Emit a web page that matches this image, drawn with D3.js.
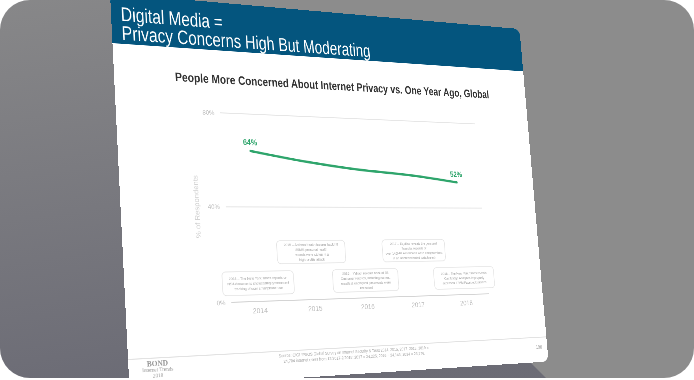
<!DOCTYPE html>
<html>
<head>
<meta charset="utf-8">
<script src="https://cdn.jsdelivr.net/npm/d3@7"></script>
<style>
    html, body { margin: 0; padding: 0; background: #fff; }
    #frame { position: absolute; left: 0; top: 0; width: 694px; height: 378px; border-radius: 30px; overflow: hidden; background: #8c8c8c; }
    #bg { position: absolute; left: 0; top: 0; }
    #slide { position: absolute; left: 0; top: 0; transform-origin: 0 0; }
    text { font-family: Arial, "Liberation Sans", sans-serif; }
</style>
</head>
<body>
<div id="frame">
    <svg id="bg" width="694" height="378"></svg>
    <svg id="slide" width="1000" height="750"></svg>
</div>
<script>
// chart values
var years = ['2014', '2015', '2016', '2017', '2018'];
var concerned = [64, 60, 57, 55, 52];
var yTicks = [0, 40, 80];
var events = [
    ['2014 \u2013 The New York Times reports on', 'NSA documents showcasing government', 'tracking of user smartphone use'],
    ['2015 \u2013 Anthem health insurer hack hit', '80MM personal health', 'records were stolen in a', 'high-profile attack'],
    ['2016 \u2013 Yahoo! reveals hack of 3B', 'Customer records, including names,', 'emails & encrypted passwords were', 'breached'],
    ['2017 \u2013 Equifax reveals the personal', 'financial records of', 'over 145MM Americans were compromised', 'in an unprecedented data breach'],
    ['2018 \u2013 The New York Times reveals', 'Cambridge Analytica improperly', 'accessed 87MM Facebook profiles']
];
var sourceLines = [
    'Source: CIGI-IPSOS Global Survey on Internet Security & Trust 2014, 2015, 2017, 2018, 2019 =',
    '24,704 internet users from 12/2017-2/2018; 2017 = 24,225; 2016 = 24,143; 2014 = 23,376.'
];

var W = 1000, H = 750;
var green = '#2fa56c';

// flat slide -> tilted quad on screen (TL, TR, BR, BL)
var quad = [[110, -7], [519.5, 29], [548.5, 361.5], [129.5, 389]];

function quadMatrix(w, h, q) {
    var x0 = q[0][0], y0 = q[0][1], x1 = q[1][0], y1 = q[1][1],
        x2 = q[2][0], y2 = q[2][1], x3 = q[3][0], y3 = q[3][1];
    var dx1 = x1 - x2, dx2 = x3 - x2, sx = x0 - x1 + x2 - x3;
    var dy1 = y1 - y2, dy2 = y3 - y2, sy = y0 - y1 + y2 - y3;
    var det = dx1 * dy2 - dx2 * dy1;
    var g = (sx * dy2 - dx2 * sy) / det;
    var k = (dx1 * sy - sx * dy1) / det;
    var a = x1 - x0 + g * x1, b = x3 - x0 + k * x3, c = x0;
    var d = y1 - y0 + g * y1, e = y3 - y0 + k * y3, f = y0;
    return [a / w, d / w, 0, g / w, b / h, e / h, 0, k / h, 0, 0, 1, 0, c, f, 0, 1];
}

d3.select('#slide').style('transform', 'matrix3d(' + quadMatrix(W, H, quad).join(',') + ')');

// background shade left and below the slide
var bg = d3.select('#bg');
var grad = bg.append('defs').append('linearGradient')
    .attr('id', 'shade').attr('x1', 0).attr('y1', 0).attr('x2', 0.2).attr('y2', 1);
grad.append('stop').attr('offset', '0%').attr('stop-color', 'rgba(40,40,70,0.04)');
grad.append('stop').attr('offset', '100%').attr('stop-color', 'rgba(40,40,70,0.32)');
bg.append('polygon')
    .attr('points', '110,-10 0,-10 0,380 548,380 528,360')
    .attr('fill', 'url(#shade)');

var svg = d3.select('#slide');
svg.append('defs').append('clipPath').attr('id', 'page')
    .append('rect').attr('width', W).attr('height', H).attr('rx', 16);

var page = svg.append('g').attr('clip-path', 'url(#page)');
page.append('rect').attr('width', W).attr('height', H).attr('fill', '#fff');
page.append('rect').attr('width', W).attr('height', 98).attr('fill', '#04557e');

// slide heading, a little taller than plain Arial
page.selectAll('text.title')
    .data(['Digital Media =', 'Privacy Concerns High But Moderating'])
    .enter().append('text')
    .attr('class', 'title')
    .attr('transform', function(d, i) { return 'translate(20,' + (53 + i * 37) + ') scale(1,1.18)'; })
    .attr('fill', '#fff')
    .style('font-size', '33px')
    .text(function(d) { return d; });

page.append('text')
    .attr('transform', 'translate(512,165) scale(1,1.1)')
    .attr('text-anchor', 'middle')
    .attr('fill', '#333')
    .style('font-size', '22.3px').style('font-weight', 'bold')
    .text('People More Concerned About Internet Privacy vs. One Year Ago, Global');

// scales
var x = d3.scalePoint().domain(years).range([222, 851]).padding(0.5);
var y = d3.scaleLinear().domain([0, 80]).range([597, 224]);

// grid + baseline
page.append('g').selectAll('line')
    .data(yTicks)
    .enter().append('line')
    .attr('x1', 222).attr('x2', 851)
    .attr('y1', function(d) { return y(d); })
    .attr('y2', function(d) { return y(d); })
    .attr('stroke', function(d) { return d === 0 ? '#d4d4d4' : '#e6e6e6'; })
    .attr('stroke-width', 2);

page.append('g').selectAll('text')
    .data(yTicks)
    .enter().append('text')
    .attr('x', 209)
    .attr('y', function(d) { return y(d); })
    .attr('dy', '0.35em')
    .attr('text-anchor', 'end')
    .attr('fill', '#bdbdbd')
    .style('font-size', '13px')
    .text(function(d) { return d + '%'; });

page.append('g').selectAll('text')
    .data(years)
    .enter().append('text')
    .attr('x', function(d) { return x(d); })
    .attr('y', y(0) + 23)
    .attr('text-anchor', 'middle')
    .attr('fill', '#bdbdbd')
    .style('font-size', '15px')
    .text(function(d) { return d; });

page.append('text')
    .attr('transform', 'translate(159,' + y(40) + ') rotate(-90)')
    .attr('text-anchor', 'middle')
    .attr('dy', '0.35em')
    .attr('fill', '#cfcfcf')
    .style('font-size', '15px')
    .text('% of Respondents');

// event call-outs, alternating rows
var boxW = 160, boxH = 46;
var ev = page.append('g').selectAll('g')
    .data(events)
    .enter().append('g')
    .attr('transform', function(d, i) {
        return 'translate(' + x(years[i]) + ',' + (i % 2 ? y(0) - 119 : y(0) - 59) + ')';
    });
ev.append('rect')
    .attr('x', -boxW / 2).attr('width', boxW).attr('height', boxH).attr('rx', 8)
    .attr('fill', '#fff').attr('stroke', '#e4e4e4').attr('stroke-width', 1.5);
ev.each(function(d) {
    var top = boxH / 2 - (d.length - 1) * 5;
    d3.select(this).selectAll('text')
        .data(d)
        .enter().append('text')
        .attr('y', function(t, j) { return top + j * 10; })
        .attr('dy', '0.35em')
        .attr('text-anchor', 'middle')
        .attr('fill', '#a4a4a4')
        .style('font-size', '7.6px')
        .text(function(t) { return t; });
});

// the series
var pts = years.map(function(d, i) { return [x(d), y(concerned[i])]; });
page.append('path')
    .attr('d', d3.line().curve(d3.curveMonotoneX)(pts))
    .attr('fill', 'none')
    .attr('stroke', green)
    .attr('stroke-width', 5)
    .attr('stroke-linecap', 'round');

page.append('g').selectAll('text')
    .data([0, years.length - 1])
    .enter().append('text')
    .attr('x', function(i) { return x(years[i]); })
    .attr('y', function(i) { return y(concerned[i]) - 12; })
    .attr('text-anchor', 'middle')
    .attr('fill', green)
    .style('font-size', '16px').style('font-weight', 'bold')
    .text(function(i) { return concerned[i] + '%'; });

// footer
page.append('line')
    .attr('x1', 0).attr('x2', W).attr('y1', 696).attr('y2', 696)
    .attr('stroke', '#e2e2e2').attr('stroke-width', 2);

page.append('g').selectAll('text')
    .data(sourceLines)
    .enter().append('text')
    .attr('x', 500)
    .attr('y', function(d, i) { return 708 + i * 11; })
    .attr('text-anchor', 'middle')
    .attr('fill', '#a8a8a8')
    .style('font-size', '8.5px')
    .text(function(d) { return d; });

page.append('text')
    .attr('x', 985).attr('y', 721)
    .attr('text-anchor', 'end')
    .attr('fill', '#9a9a9a')
    .style('font-size', '10px')
    .text('198');

page.append('g').selectAll('text')
    .data(['BOND', 'Internet Trends', '2018'])
    .enter().append('text')
    .attr('x', 59)
    .attr('y', function(d, i) { return 711 + i * 10.5; })
    .attr('text-anchor', 'middle')
    .attr('fill', '#9a9a9a')
    .style('font-family', '"Liberation Serif", "DejaVu Serif", serif')
    .style('font-size', function(d, i) { return i === 0 ? '15px' : '10.5px'; })
    .style('font-weight', function(d, i) { return i === 0 ? 'bold' : 'normal'; })
    .text(function(d) { return d; });
</script>
</body>
</html>
